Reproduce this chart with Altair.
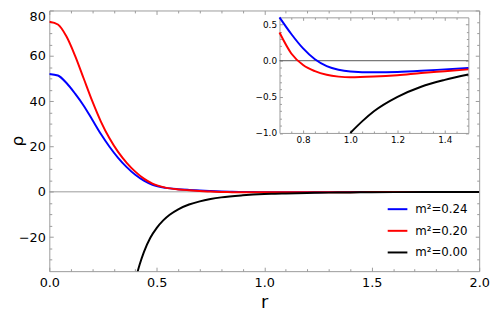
import altair as alt
import pandas as pd

FONT = "DejaVu Sans"
FRAME = "#9a9a9a"

# ---------------- data ----------------
series_names = ["m²=0.24", "m²=0.20", "m²=0.00"]
series_colors = ["#0000ff", "#ff0000", "#000000"]

r_blue = [0, 0.04, 0.08, 0.12, 0.16, 0.20, 0.24, 0.28, 0.32, 0.36, 0.40, 0.44, 0.48, 0.54,
          0.60, 0.65, 0.70, 0.75, 0.80, 0.85, 0.90, 0.95, 1.00, 1.10, 1.20, 1.30, 1.40, 1.50,
          1.75, 2.00]
rho_blue = [52.0, 51.3, 48.0, 43.3, 38.0, 31.8, 25.5, 19.9, 15.0, 10.9, 7.5, 4.9, 3.1, 1.75,
            1.15, 0.84, 0.60, 0.37, 0.17, 0.02, -0.075, -0.125, -0.148, -0.16, -0.155, -0.14,
            -0.12, -0.10, -0.06, -0.04]

r_red = [0, 0.04, 0.08, 0.12, 0.16, 0.20, 0.24, 0.28, 0.32, 0.36, 0.40, 0.44, 0.48, 0.54,
         0.60, 0.65, 0.70, 0.75, 0.80, 0.85, 0.90, 0.95, 1.00, 1.10, 1.20, 1.30, 1.40,
         1.50, 1.75, 2.00]
rho_red = [75.0, 73.8, 68.5, 60.0, 50.0, 40.0, 31.0, 23.6, 17.6, 12.8, 8.9, 5.8, 3.6, 1.85,
           1.05, 0.68, 0.39, 0.10, -0.06, -0.145, -0.195, -0.22, -0.23, -0.22, -0.20,
           -0.17, -0.145, -0.12, -0.07, -0.05]

r_black = [0.40, 0.42, 0.44, 0.47, 0.50, 0.53, 0.56, 0.60, 0.65, 0.70, 0.75, 0.80, 0.90,
           1.00, 1.05, 1.10, 1.20, 1.30, 1.40, 1.50, 1.75, 2.00]
rho_black = [-39.0, -32.2, -26.6, -20.3, -15.9, -12.6, -10.1, -7.7, -5.6, -4.2, -3.2, -2.45,
             -1.55, -1.0, -0.84, -0.70, -0.50, -0.36, -0.265, -0.19, -0.10, -0.06]

# main plot axes
main_x_domain = [0, 2]
main_y_domain = [-35, 80]
main_x_major = [0, 0.5, 1.0, 1.5, 2.0]
main_x_minor = [0.1, 0.2, 0.3, 0.4, 0.6, 0.7, 0.8, 0.9, 1.1, 1.2, 1.3, 1.4, 1.6, 1.7, 1.8, 1.9]
main_y_major = [-20, 0, 20, 40, 60, 80]
main_y_minor = [-30, -25, -15, -10, -5, 5, 10, 15, 25, 30, 35, 45, 50, 55, 65, 70, 75]

# inset axes
inset_x_domain = [0.7, 1.5]
inset_y_domain = [-1.0, 0.6]
inset_x_major = [0.8, 1.0, 1.2, 1.4]
inset_x_minor = [0.75, 0.85, 0.9, 0.95, 1.05, 1.1, 1.15, 1.25, 1.3, 1.35, 1.45]
inset_y_major = [-1.0, -0.5, 0.0, 0.5]
inset_y_minor = [-0.9, -0.8, -0.7, -0.6, -0.4, -0.3, -0.2, -0.1, 0.1, 0.2, 0.3, 0.4]

# ---------------- layout ----------------
W, H = 437, 265
IX0, IX1 = 234, 426       # inset frame (plot coords)
IY0, IY1 = 7, 124.5

rows = []
for name, rs, vs in zip(series_names, [r_blue, r_red, r_black], [rho_blue, rho_red, rho_black]):
    for r, v in zip(rs, vs):
        rows.append({"r": r, "rho": v, "series": name})
df = pd.DataFrame(rows)
inset_df = df[(df.r >= inset_x_domain[0] - 1e-9) & (df.r <= inset_x_domain[1] + 1e-9)
              & (df.rho >= inset_y_domain[0] - 1e-9) & (df.rho <= inset_y_domain[1] + 1e-9)]

main_x = alt.Scale(domain=main_x_domain, nice=False, zero=False)
main_y = alt.Scale(domain=main_y_domain, nice=False, zero=False)
inset_x = alt.Scale(domain=inset_x_domain, range=[IX0, IX1], nice=False, zero=False)
inset_y = alt.Scale(domain=inset_y_domain, range=[IY1, IY0], nice=False, zero=False)

color_scale = alt.Scale(domain=series_names, range=series_colors)
legend = alt.Legend(
    orient="none", legendX=343, legendY=191, title=None, symbolType="stroke",
    symbolStrokeWidth=2, symbolSize=400, labelFont=FONT, labelFontSize=12,
    labelOffset=7, rowPadding=5, padding=0, labelColor="black", symbolOpacity=1,
)


def tick_axis(orient, offset, values, size, domain=False):
    return alt.Axis(orient=orient, offset=offset, values=values, tickSize=size, ticks=True,
                    labels=False, domain=domain, domainColor=FRAME, tickColor=FRAME,
                    tickWidth=1, domainWidth=1, title=None, grid=False)


def axis_layer(data, xs, ys, xaxis, yaxis):
    return alt.Chart(data).mark_point(opacity=0).encode(
        x=alt.X("r:Q", scale=xs, axis=xaxis),
        y=alt.Y("rho:Q", scale=ys, axis=yaxis),
    )


# ---------------- main plot ----------------
main_x_axis = alt.Axis(
    orient="bottom", values=main_x_major, format=".1f", ticks=False, tickSize=0,
    labelFontSize=13, labelPadding=6, labelFlush=False, labelOverlap=False,
    domain=True, domainColor=FRAME, title="r", titleFontSize=18, titleFontWeight="normal",
    titleY=37, titleBaseline="alphabetic", grid=False,
)
main_y_axis = alt.Axis(
    orient="left", values=main_y_major, format="d", ticks=False, tickSize=0,
    labelFontSize=13, labelPadding=4, labelFlush=True, labelOverlap=False,
    domain=True, domainColor=FRAME, title="ρ", titleFontSize=17, titleFontWeight="normal",
    titleX=-27, titleY=H / 2, titleAngle=270, titleAlign="center",
    titleBaseline="alphabetic", grid=False,
)

zero_main = alt.Chart(pd.DataFrame({"rho": [0]})).mark_rule(color="#999999", strokeWidth=1).encode(
    y=alt.Y("rho:Q", scale=main_y, axis=None)
)

main_layers = [zero_main]
for i, name in enumerate(series_names):
    main_layers.append(
        alt.Chart(df).transform_filter(alt.datum.series == name)
        .mark_line(strokeWidth=2, clip=True, interpolate="monotone")
        .encode(
            x=alt.X("r:Q", scale=main_x, axis=main_x_axis if i == 0 else None),
            y=alt.Y("rho:Q", scale=main_y, axis=main_y_axis if i == 0 else None),
            color=alt.Color("series:N", scale=color_scale, legend=legend),
        )
    )
main_layers += [
    axis_layer(df, main_x, main_y, tick_axis("top", -H, main_x_major, 4),
               tick_axis("right", -W, main_y_major, 4)),
    axis_layer(df, main_x, main_y, tick_axis("top", -H, main_x_minor, 2.5),
               tick_axis("right", -W, main_y_minor, 2.5)),
    axis_layer(df, main_x, main_y, tick_axis("bottom", -H, main_x_major, 4, True),
               tick_axis("left", -W, main_y_major, 4, True)),
    axis_layer(df, main_x, main_y, tick_axis("bottom", -H, main_x_minor, 2.5),
               tick_axis("left", -W, main_y_minor, 2.5)),
]
main = alt.layer(*main_layers).resolve_axis(x="independent", y="independent")

# ---------------- inset ----------------
inset_x_axis = alt.Axis(
    orient="bottom", offset=-(H - IY1), values=inset_x_major, format=".1f", ticks=False,
    tickSize=0, labelFontSize=9, labelPadding=3, labelFlush=False, labelOverlap=False,
    domain=True, domainColor=FRAME, title=None, grid=False,
)
inset_y_axis = alt.Axis(
    orient="left", offset=-IX0, values=inset_y_major, format=".1f", ticks=False,
    tickSize=0, labelFontSize=9, labelPadding=3, labelFlush=False, labelOverlap=False,
    domain=True, domainColor=FRAME, title=None, grid=False,
)

zero_inset = alt.Chart(pd.DataFrame({"r": [inset_x_domain[0]], "r2": [inset_x_domain[1]], "rho": [0]})).mark_rule(
    color="#555555", strokeWidth=1
).encode(
    x=alt.X("r:Q", scale=inset_x, axis=None), x2="r2:Q",
    y=alt.Y("rho:Q", scale=inset_y, axis=None),
)

inset_layers = [zero_inset]
for i, name in enumerate(series_names):
    inset_layers.append(
        alt.Chart(inset_df).transform_filter(alt.datum.series == name)
        .mark_line(strokeWidth=2, interpolate="monotone")
        .encode(
            x=alt.X("r:Q", scale=inset_x, axis=inset_x_axis if i == 0 else None),
            y=alt.Y("rho:Q", scale=inset_y, axis=inset_y_axis if i == 0 else None),
            color=alt.Color("series:N", scale=color_scale, legend=None),
        )
    )
inset_layers += [
    axis_layer(inset_df, inset_x, inset_y, tick_axis("top", -IY1, inset_x_major, 3),
               tick_axis("right", -(W - IX0), inset_y_major, 3)),
    axis_layer(inset_df, inset_x, inset_y, tick_axis("top", -IY1, inset_x_minor, 2),
               tick_axis("right", -(W - IX0), inset_y_minor, 2)),
    axis_layer(inset_df, inset_x, inset_y, tick_axis("bottom", -(H - IY0), inset_x_major, 3, True),
               tick_axis("left", -IX1, inset_y_major, 3, True)),
    axis_layer(inset_df, inset_x, inset_y, tick_axis("bottom", -(H - IY0), inset_x_minor, 2),
               tick_axis("left", -IX1, inset_y_minor, 2)),
]
inset = alt.layer(*inset_layers).resolve_axis(x="independent", y="independent")

chart = (
    alt.layer(main, inset)
    .resolve_scale(x="independent", y="independent")
    .resolve_legend(color="independent")
    .properties(width=W, height=H, autosize="none",
                padding={"left": 42, "top": 0, "right": 11, "bottom": 39})
    .configure_view(stroke=None)
    .configure_axis(grid=False, labelFont=FONT, titleFont=FONT, labelColor="black",
                    titleColor="black")
)

chart.save("out.html", embed_options={"renderer": "svg", "actions": False})
